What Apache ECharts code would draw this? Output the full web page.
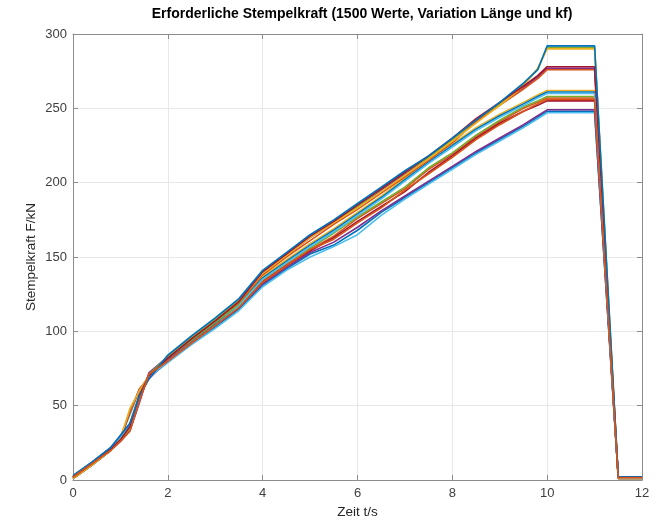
<!DOCTYPE html>
<html>
<head>
<meta charset="utf-8">
<script src="https://cdn.jsdelivr.net/npm/echarts@6/dist/echarts.min.js"></script>
<style>html,body{margin:0;padding:0;background:#fff}#c{width:669px;height:524px}</style>
</head>
<body>
<div id="c"></div>
<script>
const timeValues = [0,0.4,0.8,1,1.2,1.4,1.6,2,2.5,3,3.5,4,4.5,5,5.5,6,6.5,7,7.5,8,8.5,9,9.5,9.8,10,11,11.5,12];
const xTicks = [0,2,4,6,8,10,12];
const yTicks = [0,50,100,150,200,250,300];

const A1 = [2,11,21,27,34,55,71,83,96,108,121,140,152,164,174,184,196,207,217,229,241,253,266,276,291,291,1.5,1.5];
const A2 = [1,10,20,28,48,60,70,82,95,107,120,139,151,163,173,183,194,205,216,228,240,252,265,277,290,290,1,1];
const A3 = [3,12,22,30,38,56,68,84,97,109,122,141,153,165,175,186,197,208,218,230,242,254,267,276,292,292,2,2];
const B1 = [2,11,20,26,33,52,72,83,96,107,120,139,151,163,173,184,195,206,217,229,242,253,264,271,277,277,1.5,1.5];
const B2 = [1,10,21,29,45,61,69,81,94,106,119,138,150,161,172,182,193,204,215,227,241,252,263,270,276,276,1,1];
const B3 = [2,11,21,27,36,57,70,82,95,107,120,140,152,164,174,185,196,207,218,230,243,254,265,272,278,278,2,2];
const C1 = [2,11,21,28,35,55,71,82,94,106,119,137,148,159,169,180,191,203,216,226,237,246,254,259,262,262,1.5,1.5];
const C2 = [1,10,20,27,47,60,70,81,93,105,118,136,147,158,168,179,190,202,214,225,236,245,253,258,261,261,1,1];
const C3 = [3,12,22,29,37,56,69,80,92,104,117,135,146,157,167,178,189,201,213,224,235,244,252,257,260,260,1.5,1.5];
const D1 = [2,11,21,28,34,54,71,81,93,105,117,134,145,155,164,176,186,196,209,219,231,241,250,254,257,257,1.5,1.5];
const D2 = [1,10,20,27,46,61,69,80,92,104,116,133,144,154,163,174,184,194,207,218,230,240,248,252,255,255,1,1];
const D3 = [2,11,21,29,38,57,70,82,94,106,118,135,146,156,166,177,187,197,210,220,232,242,251,255,258,258,2,2];
const D4 = [2,11,20,26,33,53,71,80,92,104,116,133,144,155,162,173,183,195,206,217,229,239,248,253,256,256,1.5,1.5];
const E1 = [2,11,21,27,34,55,71,80,92,103,115,131,142,152,158,168,180,190,200,210,220,229,238,244,248,248,1.5,1.5];
const E2 = [1,10,20,28,44,60,69,79,91,102,114,130,141,150,157,165,178,189,199,209,219,228,237,243,247,247,1,1];
const E3 = [3,12,22,30,38,57,68,81,93,104,116,132,143,153,160,170,181,191,201,211,221,230,239,245,249,249,2,2];

const allSeries = [E1,D1,C1,B1,A1,E2,D2,C2,B2,A2,E3,D3,C3,B3,A3,D4];
const palette = ['#0072BD','#D95319','#EDB120','#7E2F8E','#77AC30','#4DBEEE','#A2142F'];

const chart = echarts.init(document.getElementById('c'), null, {renderer:'canvas'});
const FONT = 'Liberation Sans, Arial, sans-serif';
const labelFont = {color:'#404040', fontSize:13, fontFamily:FONT};
const axisLineStyle = {color:'#8c8c8c', width:1};

chart.setOption({
  animation:false,
  backgroundColor:'#fff',
  title:{
    text:'Erforderliche Stempelkraft (1500 Werte, Variation Länge und kf)',
    left:357, top:2, textAlign:'center',
    textStyle:{fontSize:14, fontWeight:'bold', color:'#000', fontFamily:FONT}
  },
  grid:{left:73, right:27, top:34, bottom:42, containLabel:false},
  xAxis:[{
    type:'value', min:0, max:12, interval:2,
    name:'Zeit t/s', nameLocation:'middle', nameGap:25, nameMoveOverlap:false,
    nameTextStyle:{color:'#262626', fontSize:13.5, fontFamily:FONT},
    axisLine:{show:true, onZero:false, lineStyle:axisLineStyle},
    axisTick:{show:true, inside:true, length:5, lineStyle:axisLineStyle},
    axisLabel:Object.assign({margin:7, formatter:v=>xTicks.includes(v)?String(v):''}, labelFont),
    splitLine:{show:true, lineStyle:{color:'#e8e8e8', width:1}}
  },{
    type:'value', min:0, max:12, interval:2, position:'top',
    axisLine:{show:true, onZero:false, lineStyle:axisLineStyle},
    axisTick:{show:true, inside:true, length:5, lineStyle:axisLineStyle},
    axisLabel:{show:false}, splitLine:{show:false}
  }],
  yAxis:[{
    type:'value', min:0, max:300, interval:50,
    name:'Stempelkraft F/kN', nameLocation:'middle', nameGap:35, nameMoveOverlap:false,
    nameTextStyle:{color:'#262626', fontSize:13.5, fontFamily:FONT},
    axisLine:{show:true, onZero:false, lineStyle:axisLineStyle},
    axisTick:{show:true, inside:true, length:5, lineStyle:axisLineStyle},
    axisLabel:Object.assign({margin:6, formatter:v=>yTicks.includes(v)?String(v):''}, labelFont),
    splitLine:{show:true, lineStyle:{color:'#e8e8e8', width:1}}
  },{
    type:'value', min:0, max:300, interval:50, position:'right',
    axisLine:{show:true, onZero:false, lineStyle:axisLineStyle},
    axisTick:{show:true, inside:true, length:5, lineStyle:axisLineStyle},
    axisLabel:{show:false}, splitLine:{show:false}
  }],
  series: allSeries.map((vals,i)=>({
    type:'line',
    data: timeValues.map((t,j)=>[t, vals[j]]),
    showSymbol:false, symbol:'none', silent:true,
    lineStyle:{width:1.6, color:palette[i % palette.length]},
    z:2
  }))
});
</script>
</body>
</html>
